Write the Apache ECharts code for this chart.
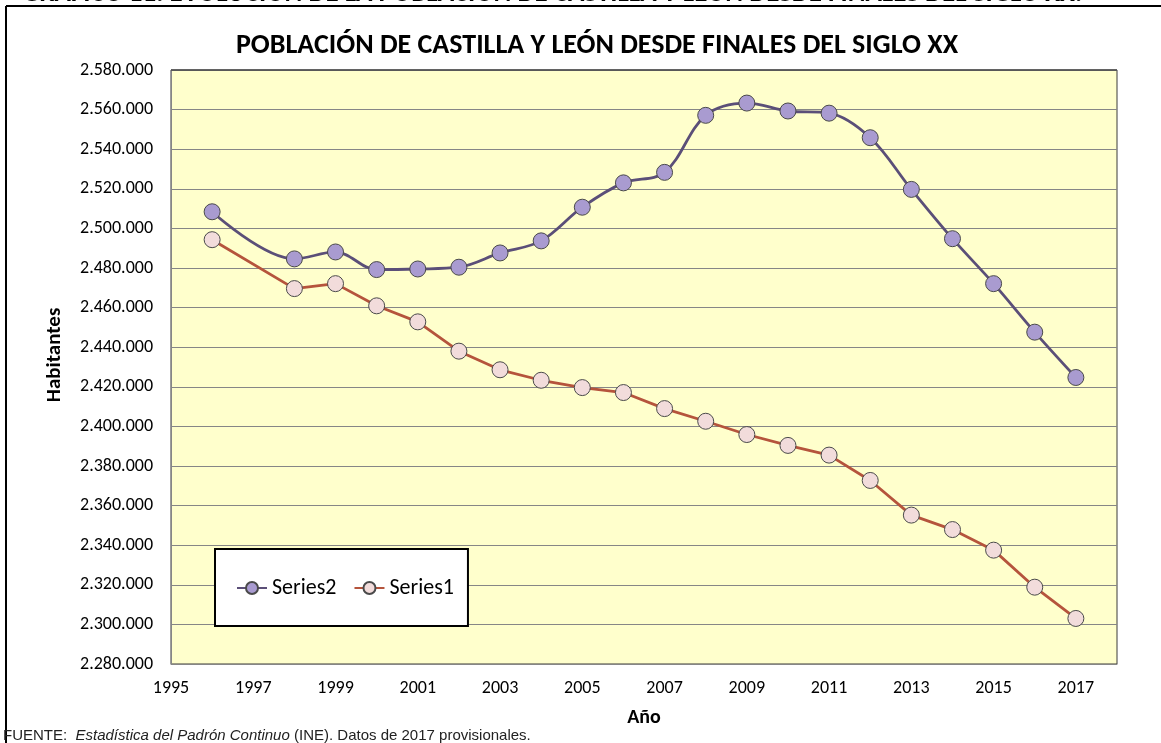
<!DOCTYPE html>
<html>
<head>
<meta charset="utf-8">
<script src="https://cdn.jsdelivr.net/npm/echarts@6/dist/echarts.min.js"></script>
<style>
html,body{margin:0;padding:0;background:#fff;}
#chart{width:1161px;height:743px;}
</style>
</head>
<body>
<div id="chart"></div>
<script>
// ---- data ----
const years = [1996, 1998, 1999, 2000, 2001, 2002, 2003, 2004, 2005, 2006, 2007, 2008, 2009, 2010, 2011, 2012, 2013, 2014, 2015, 2016, 2017];
const series2Values = [2508400, 2484600, 2488100, 2479200, 2479500, 2480400, 2487600, 2493700, 2510700, 2523000, 2528300, 2557100, 2563300, 2559300, 2558200, 2545800, 2519700, 2494800, 2472100, 2447600, 2424700];
const series1Values = [2494300, 2469600, 2472100, 2460900, 2452800, 2438000, 2428600, 2423300, 2419600, 2417100, 2409000, 2402600, 2395900, 2390400, 2385500, 2372700, 2355200, 2347900, 2337500, 2318800, 2303000];
const seriesNames = ['Series2', 'Series1'];
const yTicks = {min: 2280000, max: 2580000, step: 20000};
const xTicks = {min: 1995, max: 2018, step: 2};
const titleText = 'POBLACIÓN DE CASTILLA Y LEÓN DESDE FINALES DEL SIGLO XX';
const topText = 'GRÁFICO 11. EVOLUCIÓN DE LA POBLACIÓN DE CASTILLA Y LEÓN DESDE FINALES DEL SIGLO XX.';
const yAxisName = 'Habitantes';
const xAxisName = 'Año';

const FONT = 'Carlito, Lato, "Open Sans", sans-serif';

function fmt(v) {
  return String(Math.round(v)).replace(/\B(?=(\d{3})+(?!\d))/g, '.');
}

const chart = echarts.init(document.getElementById('chart'), null, {renderer: 'canvas'});
chart.setOption({
  animation: false,
  backgroundColor: '#ffffff',
  title: {
    text: titleText,
    left: 592,
    textAlign: 'center',
    top: 27,
    textStyle: {fontFamily: FONT, fontWeight: 'bold', fontSize: 28, color: '#000'}
  },
  legend: {
    data: seriesNames,
    left: 215,
    top: 549,
    orient: 'horizontal',
    backgroundColor: '#ffffff',
    borderColor: '#000000',
    borderWidth: 2,
    borderRadius: 0,
    padding: [28, 14, 27, 21],
    itemWidth: 30,
    itemHeight: 15,
    itemGap: 17,
    textStyle: {fontFamily: FONT, fontSize: 22, color: '#000'}
  },
  grid: {
    left: 171, right: 44, top: 70, bottom: 79,
    show: true,
    backgroundColor: '#ffffcc',
    borderColor: '#3a3a3a',
    borderWidth: 1,
    containLabel: false
  },
  xAxis: {
    type: 'value',
    min: xTicks.min,
    max: xTicks.max,
    interval: xTicks.step,
    name: xAxisName,
    nameLocation: 'middle',
    nameGap: 44,
    nameTextStyle: {fontFamily: FONT, fontWeight: 'bold', fontSize: 20, color: '#000'},
    axisLine: {show: true, lineStyle: {color: '#868686', width: 1}},
    axisTick: {show: false},
    splitLine: {show: false},
    axisLabel: {
      showMaxLabel: false,
      margin: 15,
      fontFamily: FONT, fontSize: 18, color: '#000',
      formatter: v => String(v)
    }
  },
  yAxis: {
    type: 'value',
    min: yTicks.min,
    max: yTicks.max,
    interval: yTicks.step,
    axisLine: {show: true, lineStyle: {color: '#868686', width: 1}},
    axisTick: {show: false},
    splitLine: {show: true, lineStyle: {color: '#868686', width: 1}},
    axisLabel: {
      margin: 18,
      fontFamily: FONT, fontSize: 18, color: '#000',
      formatter: v => fmt(v)
    }
  },
  series: [
    {
      name: seriesNames[0],
      type: 'line',
      smooth: 0.35,
      data: years.map((y, i) => [y, series2Values[i]]),
      symbol: 'circle',
      symbolSize: 16,
      lineStyle: {color: '#5b4f78', width: 2.8},
      itemStyle: {color: '#a99bd0', borderColor: '#4a4a4a', borderWidth: 1},
      z: 3
    },
    {
      name: seriesNames[1],
      type: 'line',
      smooth: false,
      data: years.map((y, i) => [y, series1Values[i]]),
      symbol: 'circle',
      symbolSize: 16,
      lineStyle: {color: '#b5543c', width: 2.8},
      itemStyle: {color: '#f2dcdb', borderColor: '#4a4a4a', borderWidth: 1},
      z: 3
    }
  ],
  graphic: [
    {type: 'line', shape: {x1: 6, y1: 6, x2: 1161, y2: 6}, style: {stroke: '#000', lineWidth: 2}, silent: true},
    {type: 'line', shape: {x1: 6, y1: 6, x2: 6, y2: 743}, style: {stroke: '#000', lineWidth: 2}, silent: true},
    {type: 'line', shape: {x1: 171, y1: 70, x2: 1117, y2: 70}, style: {stroke: '#2a2a2a', lineWidth: 1.2}, silent: true, z: 2},
    {
      type: 'text', x: 55, y: 355, rotation: Math.PI / 2,
      style: {text: yAxisName, font: 'bold 21px ' + FONT, fill: '#000', align: 'center', verticalAlign: 'middle'}
    },
    {
      type: 'text', left: 22, top: -19,
      style: {text: topText, font: 'bold 27px ' + FONT, fill: '#000'}
    },
    {
      type: 'text', left: 3, top: 728,
      style: {
        text: '{n|FUENTE:  }{i|Estadística del Padrón Continuo}{n| (INE). Datos de 2017 provisionales.}',
        rich: {
          n: {fontFamily: '"Liberation Sans", Arial, sans-serif', fontSize: 15, fill: '#222'},
          i: {fontFamily: '"Liberation Sans", Arial, sans-serif', fontSize: 15, fontStyle: 'italic', fill: '#222'}
        }
      }
    }
  ]
});
</script>
</body>
</html>
